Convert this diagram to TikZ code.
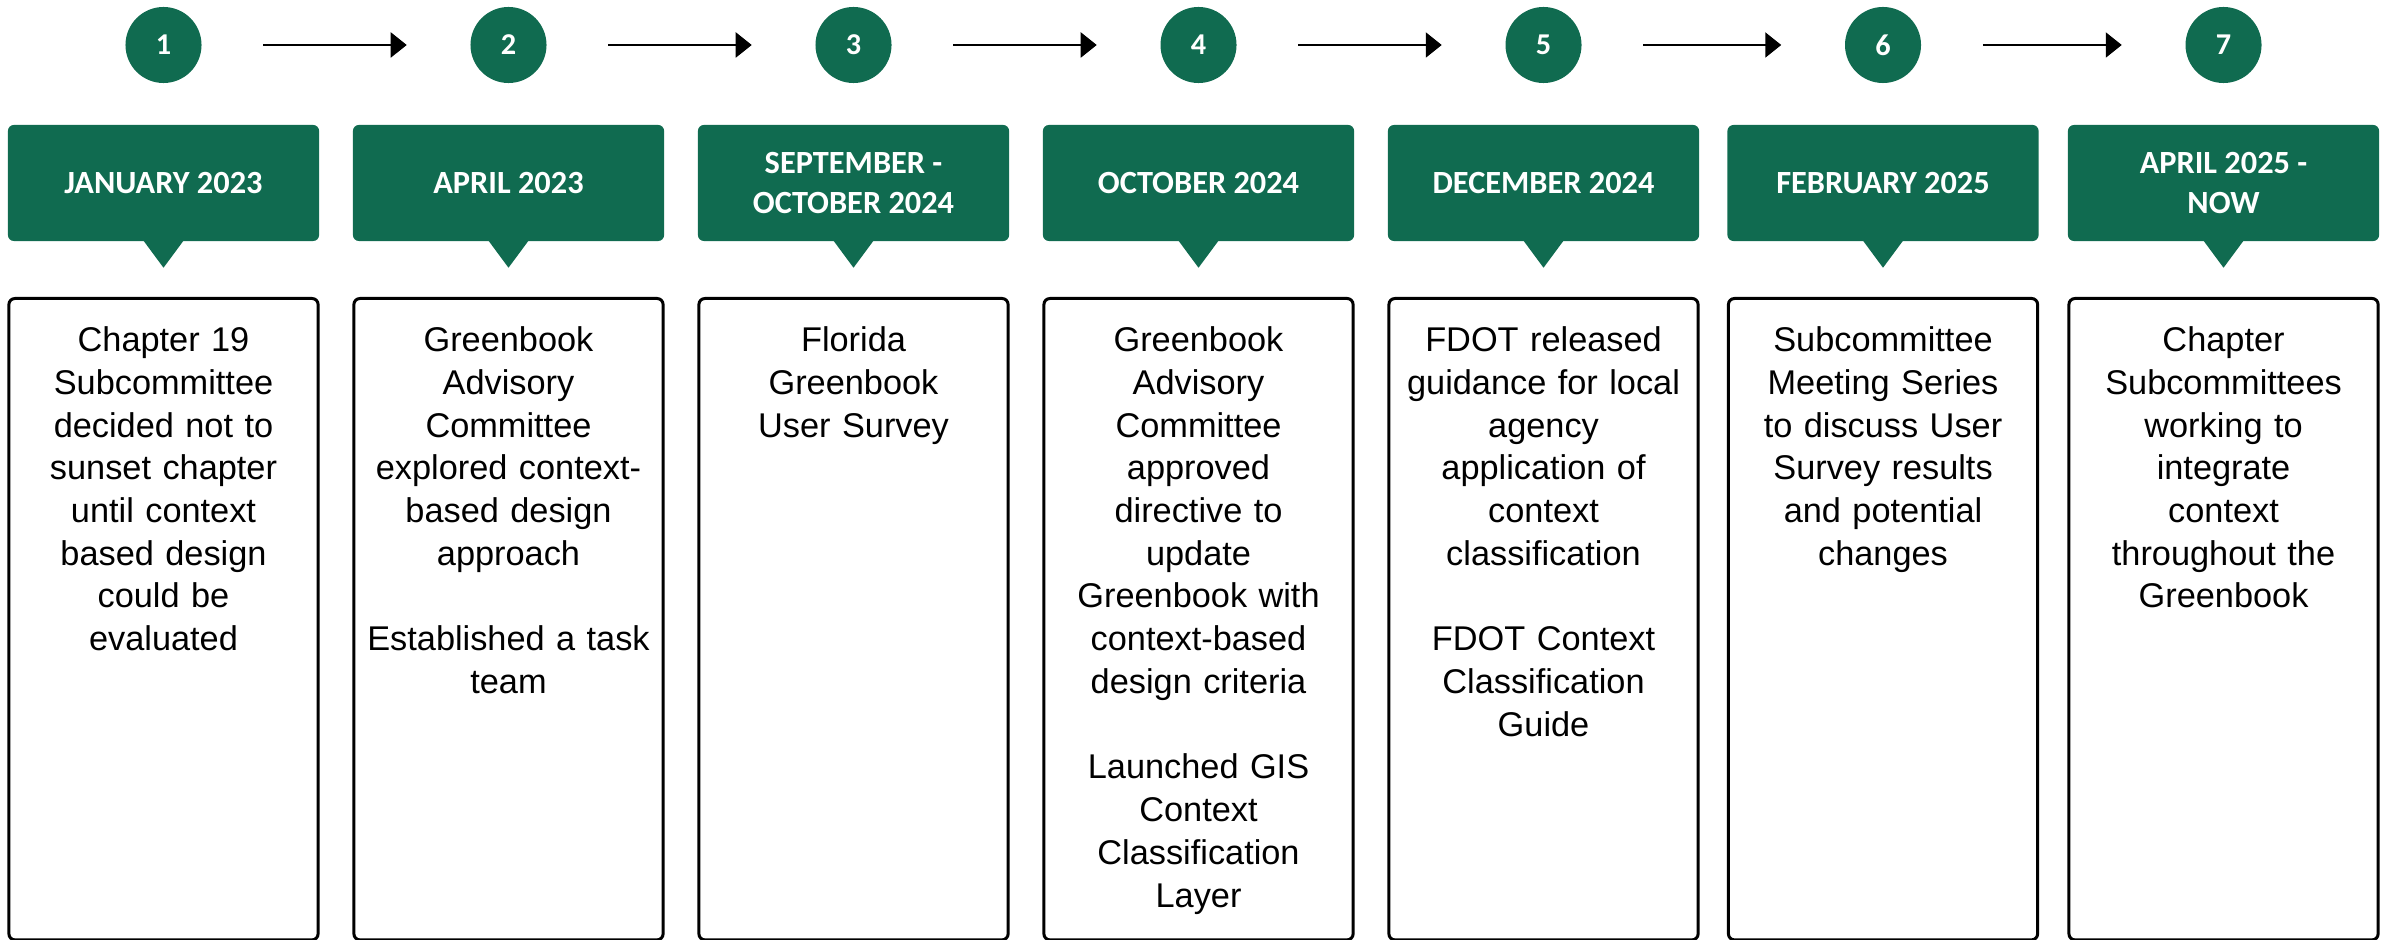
\documentclass[tikz,border=0pt]{standalone}
\usepackage{fontspec}
\setmainfont{Liberation Sans}
\newfontfamily\bannerfont{Carlito}
\usetikzlibrary{arrows.meta}
\definecolor{fgreen}{RGB}{16,107,80}
\begin{document}
\begin{tikzpicture}[x=0.01cm,y=-0.01cm,
  numcircle/.style={circle, fill=fgreen, minimum size=0.76cm, inner sep=0pt, text=white,
    font=\bannerfont\bfseries\fontsize{8.6pt}{10pt}\selectfont},
  banner/.style={rectangle, rounded corners=0.06cm, fill=fgreen, minimum width=3.11cm,
    minimum height=1.16cm, inner sep=0pt, text=white, align=center,
    font=\bannerfont\bfseries\fontsize{9.2pt}{11.2pt}\selectfont},
  pointer/.style={fill=fgreen},
  eventbox/.style={draw=black, line width=0.85pt, rounded corners=0.06cm, minimum width=3.09cm,
    minimum height=6.41cm, inner sep=0pt},
  desc/.style={text width=3.05cm, align=center, inner sep=0pt, anchor=north,
    font=\fontsize{9.76pt}{12.15pt}\selectfont},
  flow/.style={-{Triangle[length=0.16cm,width=0.25cm]}, line width=0.6pt,
    shorten <=0.61cm, shorten >=0.63cm}
]
\useasboundingbox (0,0) rectangle (2395,940);

% circles
\foreach \i/\x in {1/163.5,2/508.5,3/853.5,4/1198.5,5/1543.5,6/1883,7/2223.5}{
  \node[numcircle] (c\i) at (\x,45) {\i};
}
% arrows
\draw[flow] (c1) -- (c2);
\draw[flow] (c2) -- (c3);
\draw[flow] (c3) -- (c4);
\draw[flow] (c4) -- (c5);
\draw[flow] (c5) -- (c6);
\draw[flow] (c6) -- (c7);

% banners
\node[banner] (b1) at (163.5,183) {JANUARY 2023};
\node[banner] (b2) at (508.5,183) {APRIL 2023};
\node[banner] (b3) at (853.5,183) {SEPTEMBER -\\OCTOBER 2024};
\node[banner] (b4) at (1198.5,183) {OCTOBER 2024};
\node[banner] (b5) at (1543.5,183) {DECEMBER 2024};
\node[banner] (b6) at (1883,183) {FEBRUARY 2025};
\node[banner] (b7) at (2223.5,183) {APRIL 2025 -\\NOW};
\foreach \i in {1,...,7}{
  \fill[pointer] ([xshift=-0.2cm,yshift=0.3pt]b\i.south) -- ([xshift=0.2cm,yshift=0.3pt]b\i.south)
    -- ([yshift=-0.26cm]b\i.south) -- cycle;
}

% boxes
\foreach \i/\x in {1/163.5,2/508.5,3/853.5,4/1198.5,5/1543.5,6/1883,7/2223.5}{
  \node[eventbox, anchor=north] (e\i) at (\x,297) {};
}

% descriptions
\node[desc] (d1) at ([yshift=-0.29cm]e1.north) {Chapter 19\\Subcommittee\\decided not to\\sunset chapter\\until context\\based design\\could be\\evaluated};
\node[desc] (d2) at ([yshift=-0.29cm]e2.north) {Greenbook\\Advisory\\Committee\\explored context-\\based design\\approach\\[12.15pt]Established a task\\team};
\node[desc] (d3) at ([yshift=-0.29cm]e3.north) {Florida\\Greenbook\\User Survey};
\node[desc] (d4) at ([yshift=-0.29cm]e4.north) {Greenbook\\Advisory\\Committee\\approved\\directive to\\update\\Greenbook with\\context-based\\design criteria\\[12.15pt]Launched GIS\\Context\\Classification\\Layer};
\node[desc] (d5) at ([yshift=-0.29cm]e5.north) {FDOT released\\guidance for local\\agency\\application of\\context\\classification\\[12.15pt]FDOT Context\\Classification\\Guide};
\node[desc] (d6) at ([yshift=-0.29cm]e6.north) {Subcommittee\\Meeting Series\\to discuss User\\Survey results\\and potential\\changes};
\node[desc] (d7) at ([yshift=-0.29cm]e7.north) {Chapter\\Subcommittees\\working to\\integrate\\context\\throughout the\\Greenbook};
\end{tikzpicture}
\end{document}
